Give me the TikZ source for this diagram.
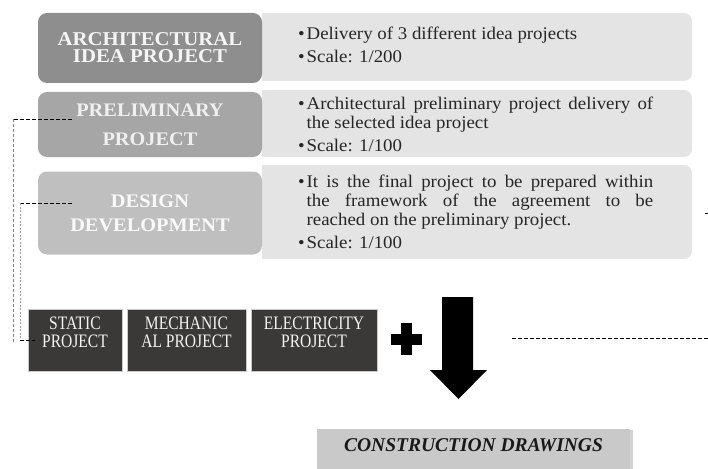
\documentclass[tikz,border=0pt]{standalone}
\usepackage{fontspec}
\setmainfont{Liberation Serif}
\newfontfamily\wideserif[FakeStretch=1.06]{Liberation Serif}
\newfontfamily\narrowserif[FakeStretch=0.82]{Liberation Serif}
\usetikzlibrary{shadows}

\definecolor{ideagray}{HTML}{8E8E8E}
\definecolor{pregray}{HTML}{A6A6A6}
\definecolor{devgray}{HTML}{BFBFBF}
\definecolor{panelgray}{HTML}{E4E4E4}
\definecolor{subdark}{HTML}{3B3838}
\definecolor{finalgray}{HTML}{C9C9C9}
\definecolor{inkgray}{HTML}{262626}

% one bullet point with a hanging indent
\newlength{\bulletw}
\setlength{\bulletw}{8.5pt}
\newcommand{\notept}[1]{\setlength{\parskip}{4pt}\hangindent=\bulletw\hangafter=1\noindent\makebox[\bulletw][l]{\textbullet}#1\par}

\begin{document}
\begin{tikzpicture}[x=1pt,y=-1pt]
    \tikzstyle{headbox}=[rounded corners=9pt,minimum width=224pt,align=center,inner sep=0pt]
    \tikzstyle{panel}=[fill=panelgray,rounded corners=8pt,minimum width=430pt,inner sep=0pt]
    \tikzstyle{note}=[anchor=base west,text width=355pt,align=justify,inner sep=0pt,text=inkgray,
        font=\wideserif\fontsize{17.8}{19}\selectfont]
    \tikzstyle{subbox}=[fill=subdark,draw=finalgray,line width=0.8pt,minimum height=62pt,inner sep=0pt]
    \tikzstyle{subtext}=[anchor=north,align=center,inner sep=0pt,text=white!95!black,font=\narrowserif\fontsize{19}{18}\selectfont]
    \tikzstyle{tapline}=[black,line width=0.9pt,dash pattern=on 4pt off 2pt]
    \tikzstyle{riser}=[gray,line width=0.9pt,dash pattern=on 3pt off 2pt]
    \tikzstyle{linkline}=[black,line width=0.8pt,dash pattern=on 4pt off 2pt]

    \useasboundingbox (0,0) rectangle (708,468);

    % right-hand panels, square on the left side
    \node[panel,minimum height=68pt] at (477,47) (idea-panel) {};
    \node[panel,minimum height=67pt] at (477,123.5) (pre-panel) {};
    \node[panel,minimum height=94pt] at (477,212) (dev-panel) {};
    \foreach \p in {idea-panel,pre-panel,dev-panel}
        \fill[panelgray] (\p.north west) rectangle ([xshift=20pt]\p.south west);

    % stage boxes
    \node[headbox,fill=ideagray,minimum height=70pt,text=white!96!black,
        font=\wideserif\bfseries\fontsize{19.6}{17}\selectfont] at (150,48) (idea) {ARCHITECTURAL\\IDEA PROJECT};
    \node[headbox,fill=pregray,minimum height=65pt,text=white!94!black,
        font=\wideserif\bfseries\fontsize{19.2}{29}\selectfont] at (150,124.5) (pre) {PRELIMINARY\\PROJECT};
    \node[headbox,fill=devgray,minimum height=83pt,text=white!90!devgray,
        font=\wideserif\bfseries\fontsize{19.2}{24}\selectfont] at (150,213) (dev) {DESIGN\\DEVELOPMENT};

    % stage notes
    \node[note] at (298,40) (idea-text) {%
        \notept{Delivery of 3 different idea projects}%
        \notept{Scale: 1/200}};
    \node[note] at (298,110) (pre-text) {%
        \notept{Architectural preliminary project delivery of\linebreak the selected idea project}%
        \notept{Scale: 1/100}};
    \node[note] at (298,187) (dev-text) {%
        \notept{It is the final project to be prepared within\linebreak the framework of the agreement to be\linebreak reached on the preliminary project.}%
        \notept{Scale: 1/100}};

    % engineering projects
    \node[subbox,minimum width=94pt] at (75,340) (static) {};
    \node[subbox,minimum width=119pt] at (186.5,340) (mech) {};
    \node[subbox,minimum width=126pt] at (314,340) (elec) {};
    \node[subtext] at ([yshift=-8pt]static.north) (static-txt) {STATIC\\PROJECT};
    \node[subtext] at ([yshift=-8pt]mech.north) (mech-txt) {MECHANIC\\AL PROJECT};
    \node[subtext] at ([yshift=-8pt]elec.north) (elec-txt) {ELECTRICITY\\PROJECT};

    % plus sign and block arrow
    \fill[black] (391,333.5) rectangle (422,344.5);
    \fill[black] (401,323) rectangle (412,355);
    \fill[black] (442,297) -- (473,297) -- (473,370) -- (487,370) -- (458.5,399)
        -- (430,370) -- (442,370) -- cycle;

    \node[fill=finalgray,minimum width=313pt,minimum height=40pt,text depth=7pt,
        drop shadow={shadow xshift=3pt,shadow yshift=-1pt,opacity=0.35},
        font=\bfseries\itshape\fontsize{19.5}{22}\selectfont,text=black!90] at (473.5,449) (drawings) {CONSTRUCTION DRAWINGS};

    % dashed links on the left
    \coordinate (pre-tap) at (72,119);
    \coordinate (dev-tap) at (72,203);
    \draw[tapline] (pre-tap) -- (13,119);
    \draw[riser] (13,119) -- (13,342);
    \draw[tapline] (dev-tap) -- (20,203);
    \draw[riser,gray!80,dash pattern=on 2pt off 1.5pt] (20,203) -- (20,340);
    \draw[tapline] (20,340) -- ([xshift=7pt]static.west);

    % dashed links on the right
    \coordinate (plan-tap) at (512,338);
    \draw[linkline] (plan-tap) -- (708,338);
    \coordinate (dev-stub) at (705,213);
    \draw[linkline] (dev-stub) -- (708,213);
\end{tikzpicture}
\end{document}
